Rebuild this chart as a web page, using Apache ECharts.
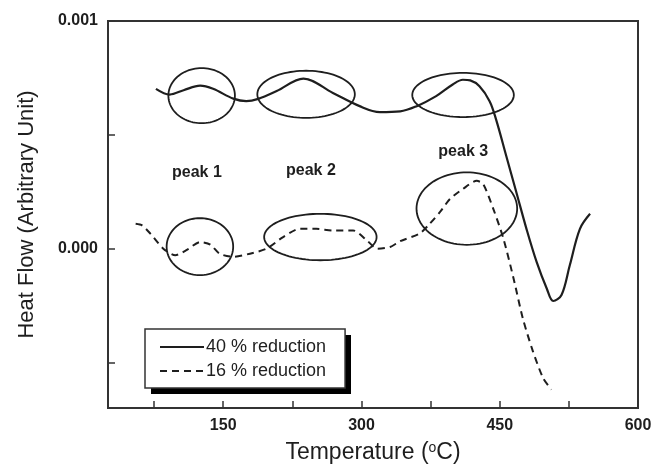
<!DOCTYPE html>
<html>
<head>
<meta charset="utf-8">
<script src="https://cdn.jsdelivr.net/npm/echarts@6/dist/echarts.min.js"></script>
<style>html,body{margin:0;padding:0;background:#fff}#c{width:668px;height:469px}</style>
</head>
<body>
<div id="c"></div>
<script>
// Series names
const seriesNames = ['40 % reduction', '16 % reduction'];

// 40 % reduction (solid)
const tempSolid = [77, 92, 107, 125, 139, 161, 175, 188, 208, 237, 269, 298, 320, 342, 360, 381, 399, 410, 418, 428, 439, 446, 457, 468, 479, 490, 501, 508, 517, 526, 537, 548];
const flowSolid = [0.000702, 0.000677, 0.000696, 0.000716, 0.000702, 0.000659, 0.000648, 0.000658, 0.000692, 0.000747, 0.000684, 0.000626, 0.000600, 0.000603, 0.000626, 0.000670, 0.000721, 0.000742, 0.000739, 0.000713, 0.000648, 0.000568, 0.000408, 0.000248, 0.000087, -0.000058, -0.000175, -0.000230, -0.000204, -0.000073, 0.000087, 0.000153];

// 16 % reduction (dashed)
const tempDashed = [55, 62, 71, 85, 98, 110, 125, 136, 146, 161, 179, 197, 215, 233, 251, 269, 291, 306, 317, 331, 342, 363, 374, 385, 396, 410, 425, 432, 443, 454, 465, 475, 486, 497, 506];
const flowDashed = [0.000109, 0.000102, 0.000066, 0.000000, -0.000029, -0.000007, 0.000029, 0.000018, -0.000022, -0.000036, -0.000022, 0.000000, 0.000051, 0.000087, 0.000087, 0.000080, 0.000080, 0.000036, 0.000000, 0.000007, 0.000033, 0.000066, 0.000109, 0.000160, 0.000218, 0.000262, 0.000298, 0.000284, 0.000175, 0.000044, -0.000131, -0.000306, -0.000451, -0.000568, -0.000619];

// Axis ticks / labels
const xTickLabels = [150, 300, 450, 600];
const xTicks = [75, 150, 225, 300, 375, 450, 525, 600];
const yTickLabels = [0, 0.001];
const yTicks = [-0.0005, 0, 0.0005, 0.001];

// Annotation ellipses: centre (temp, flow) and radii (temp, flow)
const ellipseCenterT = [126.6, 239.9, 410.2, 124.7, 255.4, 414.3];
const ellipseCenterF = [0.000672, 0.000678, 0.000675, 0.0000087, 0.0000511, 0.000176];
const ellipseRadT = [36.1, 52.9, 55.1, 36.1, 61.0, 54.6];
const ellipseRadF = [0.000121, 0.0001035, 0.000097, 0.000125, 0.000102, 0.000159];

// Peak labels
const peakLabels = ['peak 1', 'peak 2', 'peak 3'];
const peakT = [121.5, 245.1, 410.4];
const peakF = [0.000336, 0.000345, 0.000428];

const FONT = '"Liberation Sans", Arial, Helvetica, sans-serif';
const INK = '#1e1e1e';

const chart = echarts.init(document.getElementById('c'), null, {renderer: 'canvas'});

const solidData = tempSolid.map((t, i) => [t, flowSolid[i]]);
const dashedData = tempDashed.map((t, i) => [t, flowDashed[i]]);
const ellipseData = ellipseCenterT.map((t, i) => [t, ellipseCenterF[i], ellipseRadT[i], ellipseRadF[i]]);
const peakData = peakT.map((t, i) => [t, peakF[i], i]);

const LEG = {left: 145, top: 329, w: 200, h: 59, shadow: 6};

chart.setOption({
  animation: false,
  backgroundColor: '#fff',
  grid: {left: 108, right: 30, top: 21, bottom: 58, show: true, borderColor: '#333', borderWidth: 2, backgroundColor: 'transparent'},
  graphic: [{
    type: 'rect', z: 10, silent: true,
    shape: {x: LEG.left + LEG.shadow, y: LEG.top + LEG.shadow, width: LEG.w, height: LEG.h},
    style: {fill: '#000'}
  }],
  legend: {
    data: seriesNames,
    orient: 'vertical',
    left: LEG.left, top: LEG.top,
    padding: [9, 19, 8, 14],
    itemWidth: 44, itemHeight: 14, itemGap: 6,
    backgroundColor: '#fff',
    borderColor: '#333', borderWidth: 1.5, borderRadius: 0,
    z: 20,
    itemStyle: {opacity: 0},
    textStyle: {fontFamily: FONT, fontSize: 18, color: INK, padding: [0, 0, 0, -3]},
    selectedMode: false
  },
  xAxis: {
    type: 'value', min: 25, max: 600,
    name: '{a|Temperature (}{s|o}{a|C)}',
    nameLocation: 'middle', nameGap: 33,
    nameTextStyle: {rich: {
      a: {fontFamily: FONT, fontSize: 23, color: INK},
      s: {fontFamily: FONT, fontSize: 14, color: INK, verticalAlign: 'top', padding: [0, 0, 9, 0]}
    }},
    axisLine: {show: true, onZero: false, lineStyle: {color: '#333', width: 2}},
    axisTick: {show: true, inside: true, length: 7, customValues: xTicks, lineStyle: {color: '#333', width: 1.5}},
    axisLabel: {customValues: xTickLabels, fontFamily: FONT, fontSize: 16, fontWeight: 'bold', color: INK, margin: 10},
    splitLine: {show: false}
  },
  yAxis: {
    type: 'value', min: -0.0007, max: 0.001,
    name: 'Heat Flow (Arbitrary Unit)',
    nameLocation: 'middle', nameGap: 70, nameRotate: 90,
    nameTextStyle: {fontFamily: FONT, fontSize: 22, color: INK},
    axisLine: {show: true, onZero: false, lineStyle: {color: '#333', width: 2}},
    axisTick: {show: true, inside: true, length: 7, customValues: yTicks, lineStyle: {color: '#333', width: 1.5}},
    axisLabel: {customValues: yTickLabels, fontFamily: FONT, fontSize: 16, fontWeight: 'bold', color: INK, margin: 10,
      formatter: v => Number(v).toFixed(3)},
    splitLine: {show: false}
  },
  series: [
    {
      name: seriesNames[0], type: 'line', data: solidData, symbol: 'none', smooth: 0.35,
      lineStyle: {color: INK, width: 2.2, type: 'solid'}, itemStyle: {color: INK}, z: 3
    },
    {
      name: seriesNames[1], type: 'line', data: dashedData, symbol: 'none', smooth: 0.25,
      lineStyle: {color: INK, width: 2, type: [7, 5]}, itemStyle: {color: INK}, z: 3
    },
    {
      name: 'ellipses', type: 'custom', data: ellipseData, silent: true, z: 2,
      renderItem: function (params, api) {
        const c = api.coord([api.value(0), api.value(1)]);
        const s = api.size([api.value(2), api.value(3)]);
        const pts = [];
        for (let k = 0; k < 96; k++) {
          const a = k / 96 * Math.PI * 2;
          pts.push([c[0] + s[0] * Math.cos(a), c[1] + s[1] * Math.sin(a)]);
        }
        return {type: 'polygon', shape: {points: pts}, style: {fill: 'none', stroke: INK, lineWidth: 1.8}};
      }
    },
    {
      name: 'peaks', type: 'custom', data: peakData, silent: true, z: 4,
      renderItem: function (params, api) {
        const c = api.coord([api.value(0), api.value(1)]);
        return {type: 'text', x: c[0], y: c[1], style: {
          text: peakLabels[api.value(2)], fontFamily: FONT, fontSize: 16, fontWeight: 'bold',
          fill: INK, align: 'center', verticalAlign: 'middle'
        }};
      }
    }
  ]
});
</script>
</body>
</html>
